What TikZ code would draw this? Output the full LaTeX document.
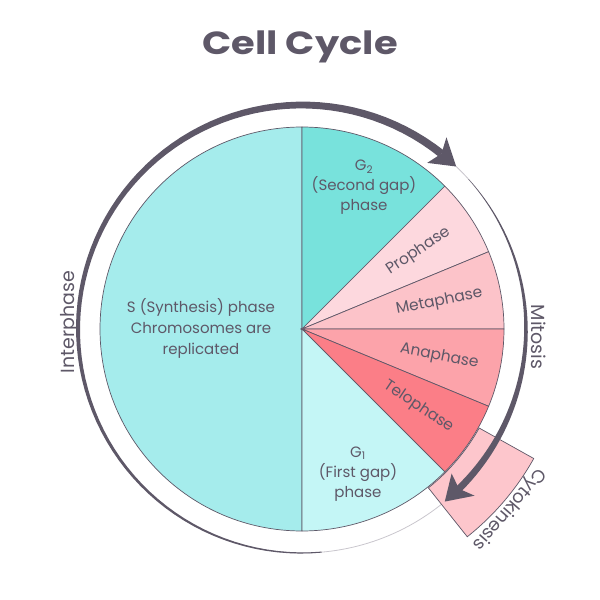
\documentclass[tikz,border=0pt]{standalone}
\usepackage{fontspec}
\setmainfont{Poppins}
\definecolor{ink}{HTML}{5E5868}
\definecolor{sfill}{HTML}{A5ECEC}
\definecolor{gtwo}{HTML}{78E2DC}
\definecolor{gone}{HTML}{C4F6F6}
\definecolor{pro}{HTML}{FDD8DE}
\definecolor{meta}{HTML}{FCC3C9}
\definecolor{ana}{HTML}{FCA3AA}
\definecolor{telo}{HTML}{FB7E87}
\definecolor{cyto}{HTML}{FDC6CC}
\definecolor{ringc}{HTML}{C9C6CD}
\begin{document}
\begin{tikzpicture}[x=1pt,y=1pt,
  sector/.style={draw=ink, line width=0.7pt},
  lbl/.style={text=ink, font=\fontsize{15}{21}\selectfont, align=center, inner sep=0pt},
  plbl/.style={text=ink, font=\fontsize{15.5}{18}\selectfont, inner sep=0pt},
  olbl/.style={text=ink, font=\fontsize{19}{22}\selectfont, inner sep=0pt},
  arrowfill/.style={fill=ink, draw=none}]
\useasboundingbox (0,0) rectangle (600,600);
\node[text=ink, font=\fontsize{32}{38}\selectfont\bfseries] (title) at (300,553) {\scalebox{1.2}[1]{Cell Cycle}};
\begin{scope}[shift={(302,271)}]
  % thin ring
  \draw[ringc, line width=0.8pt] (0,0) circle[radius=224];
  % cytokinesis box
  \path[sector, fill=cyto] (-29.2:203) -- (-29.2:265.5) arc[start angle=-29.2, end angle=-51.5, radius=265.5] -- (-51.5:203) arc[start angle=-51.5, end angle=-29.2, radius=203] -- cycle;
  % sectors
  \path[sector, fill=sfill] (0,0) -- (90:202) arc[start angle=90, end angle=270, radius=202] -- cycle;
  \path[sector, fill=gtwo] (0,0) -- (45:202) arc[start angle=45, end angle=90, radius=202] -- cycle;
  \path[sector, fill=gone] (0,0) -- (-90:202) arc[start angle=-90, end angle=-45, radius=202] -- cycle;
  \path[sector, fill=pro] (0,0) -- (22.5:202) arc[start angle=22.5, end angle=45, radius=202] -- cycle;
  \path[sector, fill=meta] (0,0) -- (0:202) arc[start angle=0, end angle=22.5, radius=202] -- cycle;
  \path[sector, fill=ana] (0,0) -- (-22.5:202) arc[start angle=-22.5, end angle=0, radius=202] -- cycle;
  \path[sector, fill=telo] (0,0) -- (-45:202) arc[start angle=-45, end angle=-22.5, radius=202] -- cycle;
  % interphase tapered arrow
  \path[arrowfill] plot[domain=51.5:275, samples=80] ({(224+0.5*(1+7*(275-\x)/223.5))*cos(\x)},{(224+0.5*(1+7*(275-\x)/223.5))*sin(\x)})
     -- plot[domain=275:51.5, samples=80] ({(224-0.5*(1+7*(275-\x)/223.5))*cos(\x)},{(224-0.5*(1+7*(275-\x)/223.5))*sin(\x)}) -- cycle;
  \path[arrowfill] (46.5:224) -- (53:240) -- (51.5:224) -- (53:208) -- cycle;
  % mitosis tapered arrow
  \path[arrowfill] plot[domain=-45.5:42, samples=50] ({(224+0.5*(0.3+6.7*(42-\x)/87.5))*cos(\x)},{(224+0.5*(0.3+6.7*(42-\x)/87.5))*sin(\x)})
     -- plot[domain=42:-45.5, samples=50] ({(224-0.5*(0.3+6.7*(42-\x)/87.5))*cos(\x)},{(224-0.5*(0.3+6.7*(42-\x)/87.5))*sin(\x)}) -- cycle;
  \path[arrowfill] (-50.4:224) -- (-44:240) -- (-45.5:224) -- (-44:208) -- cycle;
  % labels
  \node[lbl] (slabel) at (-101,1) {S (Synthesis) phase\\Chromosomes are\\replicated};
  \node[lbl, font=\fontsize{15}{20}\selectfont] (gtwolabel) at (62,142) {G\textsubscript{2}\\(Second gap)\\phase};
  \node[lbl, font=\fontsize{15}{20}\selectfont] (gonelabel) at (56,-145) {G\textsubscript{1}\\(First gap)\\phase};
  \node[plbl, rotate=33.75] (prolabel) at (33.75:140) {Prophase};
  \node[plbl, rotate=11.25] (metalabel) at (11.25:140) {Metaphase};
  \node[plbl, rotate=-11.25] (analabel) at (-11.25:140) {Anaphase};
  \node[plbl, rotate=-33.75] (telolabel) at (-33.75:140) {Telophase};
  \node[olbl, rotate=90] (interlabel) at (-232,7) {Interphase};
  \node[olbl, rotate=-90] (mitolabel) at (237,-8) {Mitosis};
  \node[olbl, font=\fontsize{18}{20}\selectfont, rotate=-131] (cytolabel) at (-41:274) {Cytokinesis};
\end{scope}
\end{tikzpicture}
\end{document}
